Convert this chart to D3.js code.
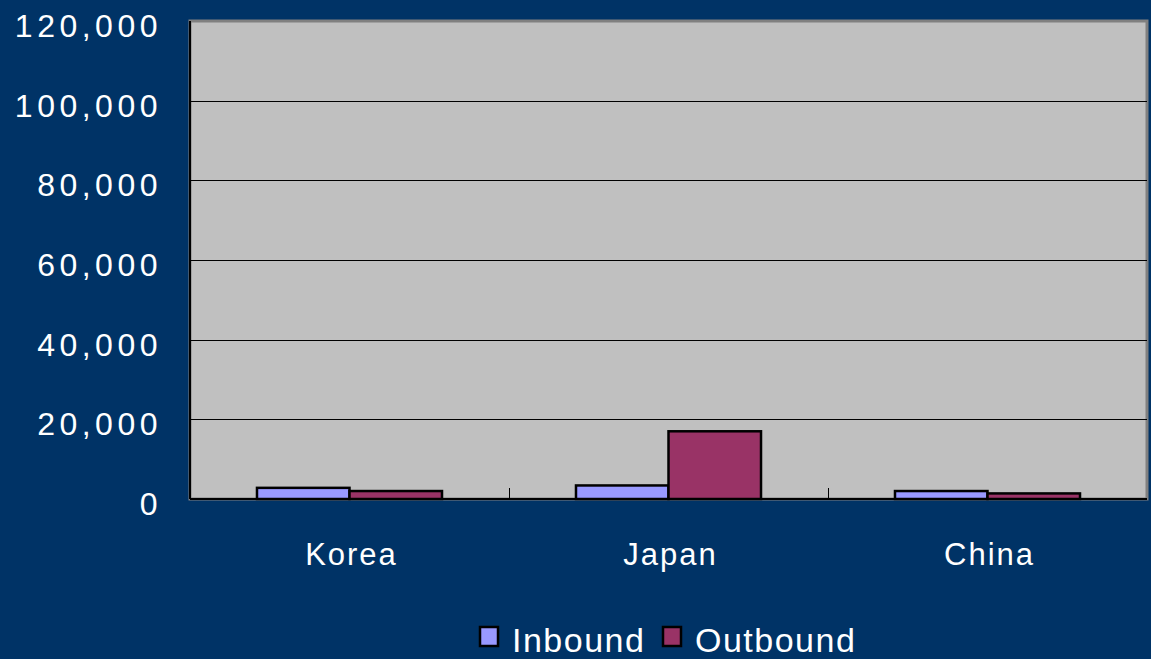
<!DOCTYPE html>
<html>
<head>
<meta charset="utf-8">
<script src="https://cdn.jsdelivr.net/npm/d3@7"></script>
<style>
  body { margin: 0; background: #003366; }
  text { font-family: "Liberation Sans", Arial, sans-serif; fill: #ffffff; }
</style>
</head>
<body>
<div id="chart"></div>
<script>
var categories = ["Korea", "Japan", "China"];
var seriesNames = ["Inbound", "Outbound"];
var inbound = [2800, 3400, 2000];
var outbound = [2000, 17000, 1400];
var yTicks = [0, 20000, 40000, 60000, 80000, 100000, 120000];

var svgWidth = 1151;
var svgHeight = 659;
var colors = ["#9999ff", "#993366"];

var plot = { left: 190, top: 21, right: 1147, bottom: 499 };

var svg = d3.select("#chart")
  .append("svg")
  .attr("width", svgWidth)
  .attr("height", svgHeight);

svg.append("rect")
  .attr("width", svgWidth)
  .attr("height", svgHeight)
  .attr("fill", "#003366");

var xScale = d3.scaleBand()
  .domain(categories)
  .range([plot.left, plot.right])
  .paddingInner(0)
  .paddingOuter(0);

var xInner = d3.scaleBand()
  .domain(seriesNames)
  .range([xScale.bandwidth() * 0.21, xScale.bandwidth() * 0.79]);

var yScale = d3.scaleLinear()
  .domain([0, 120000])
  .range([plot.bottom, plot.top]);

// plot area with gray shadow border on top/right
svg.append("rect")
  .attr("x", plot.left)
  .attr("y", plot.top)
  .attr("width", plot.right - plot.left)
  .attr("height", plot.bottom - plot.top)
  .attr("fill", "#c0c0c0")
  .attr("stroke", "#808080")
  .attr("stroke-width", 3);

// gridlines
svg.append("g")
  .selectAll("line")
  .data(yTicks.filter(d => d > 0 && d < 120000))
  .enter()
  .append("line")
  .attr("x1", plot.left)
  .attr("x2", plot.right)
  .attr("y1", d => Math.round(yScale(d)) + 0.5)
  .attr("y2", d => Math.round(yScale(d)) + 0.5)
  .attr("stroke", "#000000")
  .attr("stroke-width", 1);

// bars
var rows = categories.map((c, i) => ({ cat: c, values: [inbound[i], outbound[i]] }));

var groups = svg.append("g")
  .selectAll("g")
  .data(rows)
  .enter()
  .append("g")
  .attr("transform", d => `translate(${xScale(d.cat)}, 0)`);

groups.selectAll("rect")
  .data(d => d.values.map((v, j) => ({ name: seriesNames[j], value: v, j: j })))
  .enter()
  .append("rect")
  .attr("x", d => xInner(d.name))
  .attr("y", d => yScale(d.value))
  .attr("width", xInner.bandwidth())
  .attr("height", d => yScale(0) - yScale(d.value))
  .attr("fill", d => colors[d.j])
  .attr("stroke", "#000000")
  .attr("stroke-width", 2.5);

// axis lines
svg.append("line")
  .attr("x1", plot.left).attr("x2", plot.left)
  .attr("y1", plot.top).attr("y2", plot.bottom)
  .attr("stroke", "#000000").attr("stroke-width", 2);

svg.append("line")
  .attr("x1", plot.left).attr("x2", plot.right)
  .attr("y1", plot.bottom).attr("y2", plot.bottom)
  .attr("stroke", "#000000").attr("stroke-width", 2);

// category separator ticks (inward)
svg.append("g")
  .selectAll("line")
  .data(categories.slice(1))
  .enter()
  .append("line")
  .attr("x1", d => Math.round(xScale(d)) + 0.5)
  .attr("x2", d => Math.round(xScale(d)) + 0.5)
  .attr("y1", plot.bottom - 11)
  .attr("y2", plot.bottom)
  .attr("stroke", "#000000")
  .attr("stroke-width", 1);

// y tick labels
svg.append("g")
  .selectAll("text")
  .data(yTicks)
  .enter()
  .append("text")
  .attr("x", 162)
  .attr("y", d => yScale(d) + 16)
  .attr("text-anchor", "end")
  .attr("font-size", "32px")
  .attr("letter-spacing", "4.5px")
  .text(d => d3.format(",")(d));

// x category labels
svg.append("g")
  .selectAll("text")
  .data(categories)
  .enter()
  .append("text")
  .attr("x", d => xScale(d) + xScale.bandwidth() / 2 + 2)
  .attr("y", 565)
  .attr("text-anchor", "middle")
  .attr("font-size", "31px")
  .attr("letter-spacing", "2px")
  .text(d => d);

// legend
var legendX = [480, 663];
var legend = svg.append("g")
  .selectAll("g")
  .data(seriesNames)
  .enter()
  .append("g")
  .attr("transform", (d, i) => `translate(${legendX[i]}, 627)`);

legend.append("rect")
  .attr("x", 0)
  .attr("y", 0)
  .attr("width", 18)
  .attr("height", 19)
  .attr("fill", (d, i) => colors[i])
  .attr("stroke", "#000000")
  .attr("stroke-width", 2.5);

legend.append("text")
  .attr("x", 32)
  .attr("y", 25)
  .attr("font-size", "34px")
  .attr("letter-spacing", "1.5px")
  .text(d => d);
</script>
</body>
</html>
